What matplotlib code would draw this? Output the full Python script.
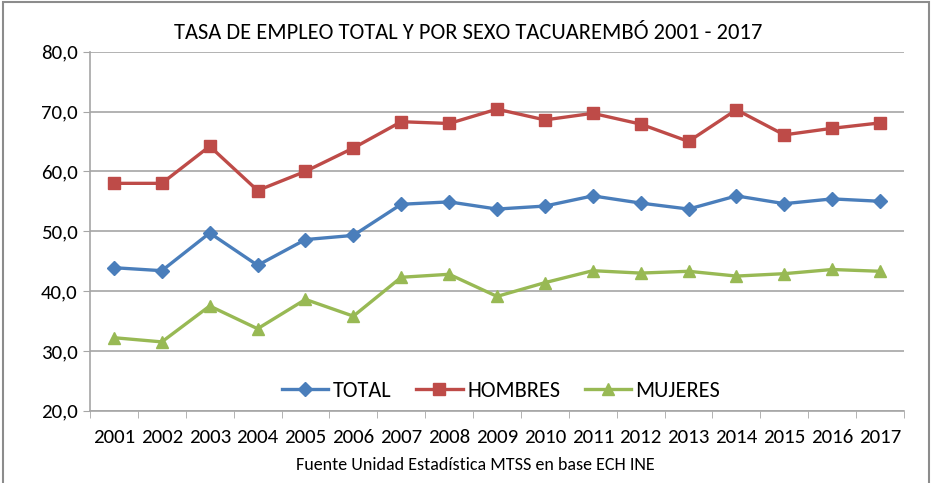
import numpy as np
import matplotlib
matplotlib.use("Agg")
from matplotlib import pyplot as plt
from matplotlib.patches import Rectangle

plt.rcParams['font.family'] = ['Carlito', 'Lato', 'DejaVu Sans']

years = [str(y) for y in range(2001, 2018)]
total = [43.9, 43.4, 49.7, 44.3, 48.6, 49.3, 54.5, 54.9, 53.7, 54.2, 55.9, 54.7, 53.7, 55.9, 54.6, 55.4, 55.0]
hombres = [58.0, 58.0, 64.2, 56.8, 60.0, 63.9, 68.3, 68.0, 70.4, 68.6, 69.7, 67.9, 65.0, 70.3, 66.1, 67.2, 68.1]
mujeres = [32.2, 31.5, 37.5, 33.7, 38.6, 35.8, 42.3, 42.8, 39.1, 41.4, 43.4, 43.0, 43.3, 42.5, 42.9, 43.6, 43.3]

fig = plt.figure(figsize=(9.32, 4.83), dpi=100)
ax = fig.add_axes([90/932, 1 - 410.7/483, (904-90)/932, (410.7-51.7)/483])

x = np.arange(len(years))
ax.plot(x, total, color='#4A7EBB', lw=2.4, marker='D', ms=7, label='TOTAL')
ax.plot(x, hombres, color='#BE4B48', lw=2.4, marker='s', ms=8.5, label='HOMBRES')
ax.plot(x, mujeres, color='#98B954', lw=2.4, marker='^', ms=9, label='MUJERES')

ax.set_xlim(-0.5, len(years) - 0.5)
ax.set_ylim(20, 80)
ax.set_yticks(np.arange(20, 81, 10))
ax.set_yticklabels([f"{v:.1f}".replace('.', ',') for v in np.arange(20, 81, 10)], fontsize=15)
ax.yaxis.grid(True, color='#A6A6A6', lw=1.2)
ax.set_axisbelow(True)
ax.set_xticks(x)
ax.set_xticklabels(years, fontsize=15)
ax.set_xticks(np.arange(-0.5, len(years), 1), minor=True)
ax.tick_params(axis='x', which='major', length=0, pad=13)
ax.tick_params(axis='x', which='minor', length=5, color='#A6A6A6')
ax.tick_params(axis='y', length=5, color='#A6A6A6', pad=4)
for s in ['top', 'right']:
    ax.spines[s].set_visible(False)
for s in ['left', 'bottom']:
    ax.spines[s].set_color('#A6A6A6')
    ax.spines[s].set_linewidth(1.2)

ax.legend(loc='center', bbox_to_anchor=(0.505, 0.055), ncol=3, frameon=False,
          fontsize=16, handlelength=2.1, columnspacing=1.1, handletextpad=0.2)

fig.text(0.502, 1 - 33/483, 'TASA DE EMPLEO TOTAL Y POR SEXO TACUAREMBÓ 2001 - 2017',
         ha='center', va='center', fontsize=16.2)
fig.text(0.51, 1 - 465/483, 'Fuente Unidad Estadística MTSS en base ECH INE',
         ha='center', va='center', fontsize=13)

fig.patches.append(Rectangle((0.003, -0.01), 0.994, 1.005, transform=fig.transFigure,
                             fill=False, edgecolor='#8C8C8C', lw=1.5))

fig.savefig('out.png', dpi=100)
